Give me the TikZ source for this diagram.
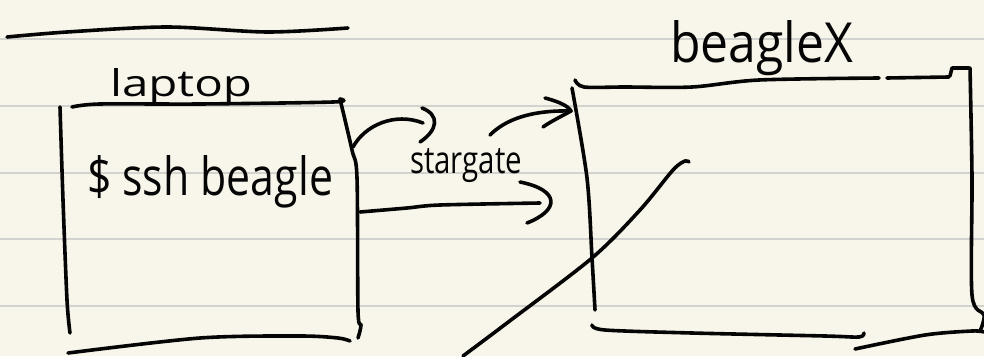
\documentclass[tikz,border=0pt]{standalone}
\usepackage{fontspec}
\setmainfont{Open Sans}
\definecolor{paper}{HTML}{F8F6EA}
\definecolor{rulegray}{HTML}{D2D2CE}
\definecolor{ink}{HTML}{050505}
\begin{document}
\begin{tikzpicture}[x=1pt,y=-1pt,
  pen/.style={line width=3.6pt,line cap=round,line join=round,draw=ink},
  ruling/.style={line width=2pt,draw=rulegray},
  hand/.style={inner sep=0pt,outer sep=0pt,text=ink,font=\fontsize{30}{30}\selectfont}]
\fill[paper] (0,0) rectangle (984,356);
\useasboundingbox (0,0) rectangle (984,356);
% ruled paper
\foreach \yy in {39,106,172.7,239.3,306}
  \draw[ruling] (0,\yy) -- (984,\yy);
% top stroke
\draw[pen] plot[smooth] coordinates {(7,37) (67,32) (167,27) (267,32) (348,28)};
% laptop box
\draw[pen] plot[smooth] coordinates {(72,107) (100,104) (200,104) (333,102) (340,99)};
\draw[pen] plot[smooth] coordinates {(60,107) (63,200) (67,300) (70,333)};
\draw[pen] plot[smooth] coordinates {(340,99) (352,150) (357,178) (358,311) (361,325) (358,338)};
\draw[pen] plot[smooth] coordinates {(68,353) (200,338) (300,336) (338,338) (350,341)};
% beagleX box
\draw[pen] plot[smooth] coordinates {(575,80) (584,87) (625,87) (692,87) (759,80) (879,78)};
\draw[pen] (887,78) -- (949,77);
\draw[pen] (950,76) -- (952,68) -- (969,68);
\draw[pen] plot[smooth] coordinates {(970,68) (972,178) (972,295) (984,315) (980,331)};
\draw[pen] plot[smooth] coordinates {(572,88) (587,178) (592,258) (595,310)};
\draw[pen] plot[smooth] coordinates {(592,325) (605,330) (692,333) (825,336) (859,337) (864,333)};
\draw[pen] plot[smooth] coordinates {(855,349) (925,335) (972,331) (984,332)};
% labels
\node[hand,anchor=base west] (laptop) at (110,96) {\resizebox{142pt}{28pt}{laptop}};
\node[hand,anchor=base west] (cmd) at (87,195) {\resizebox{246pt}{40pt}{\$ ssh beagle}};
\node[hand,anchor=base west] (sg) at (410,173) {\resizebox{112pt}{25pt}{stargate}};
\node[hand,anchor=base west] (bx) at (670,62) {\resizebox{183pt}{42pt}{beagleX}};
% arrows
\coordinate (a1s) at (353,147);
\coordinate (a1e) at (423,123);
\draw[pen] (a1s) .. controls (365,125) and (395,112) .. (a1e);
\draw[pen] (422,108) .. controls (440,115) and (438,130) .. (420,142);
\coordinate (a2s) at (490,135);
\coordinate (a2e) at (571,111);
\draw[pen] (a2s) .. controls (505,120) and (530,110) .. (a2e);
\draw[pen] (545,98) .. controls (560,102) and (568,106) .. (a2e) .. controls (560,117) and (550,122) .. (543,127);
\coordinate (a3s) at (360,212);
\coordinate (a3e) at (540,203);
\draw[pen] plot[smooth] coordinates {(a3s) (407,208) (440,205) (a3e)};
\draw[pen] (520,182) .. controls (560,190) and (560,210) .. (527,223);
% diagonal stroke
\draw[pen] plot[smooth] coordinates {(463,356) (507,323) (592,258) (640,210) (673,170) (685,161) (689,162)};
\end{tikzpicture}
\end{document}
